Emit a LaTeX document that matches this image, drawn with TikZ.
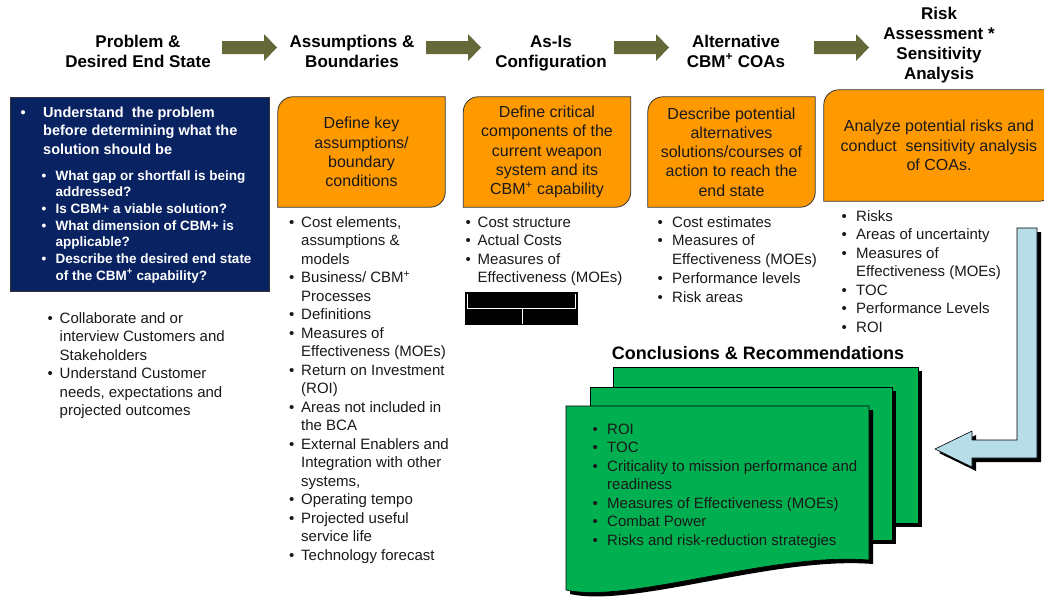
\documentclass[tikz,border=0pt]{standalone}
\usepackage{fontspec}
\setmainfont{Liberation Sans}
\usetikzlibrary{backgrounds,shadows}
\definecolor{navy}{RGB}{8,34,98}
\definecolor{bcaorange}{RGB}{255,153,0}
\definecolor{olivearrow}{RGB}{103,104,57}
\definecolor{sheetgreen}{RGB}{0,176,80}
\definecolor{lightblue}{RGB}{183,222,232}
\newcommand{\bitem}[1][12pt]{\makebox[#1][l]{\textbullet}}
\newcommand{\bhang}[1][12pt]{\hspace*{#1}}
\newcommand{\cbmp}{CBM\textsuperscript{+}}
\begin{document}
\begin{tikzpicture}[x=1pt,y=-1pt,
	hdr/.style={align=center,anchor=base,inner sep=0pt,font=\fontsize{17}{20}\selectfont\bfseries},
	lst/.style={align=left,anchor=base west,inner sep=0pt,text=black!90,font=\fontsize{15}{18.5}\selectfont},
	otext/.style={align=center,inner sep=0pt,text=black!90,font=\fontsize{16}{19.25}\selectfont},
	obox/.style={fill=bcaorange,draw=black!80,line width=0.8pt},
	sheet/.style={fill=sheetgreen,draw=black,line width=0.6pt,drop shadow={opacity=1,fill=black,shadow xshift=4pt,shadow yshift=-4pt}}]
	\useasboundingbox (0,0) rectangle (1044,598);
		\node[hdr] (H1) at (138,67) {Problem \&\\Desired End State};
		\node[hdr] (H2) at (352,67) {Assumptions \&\\Boundaries};
		\node[hdr] (H3) at (551,67) {As-Is\\Configuration};
		\node[hdr] (H4) at (736,67) {Alternative\\\cbmp{} COAs};
		\node[hdr] (H5) at (939,79) {Risk\\Assessment *\\Sensitivity\\Analysis};
		\foreach \x in {222,426,614,814}{
				\fill[olivearrow] (\x,41) -- (\x+42,41) -- (\x+42,34) -- (\x+55,47.5) -- (\x+42,61) -- (\x+42,54) -- (\x,54) -- cycle;}
		\node[fill=navy,draw=black!80,line width=1pt,minimum width=259pt,minimum height=194pt,inner sep=0pt] (B1) at (139.5,194) {};
		\node[lst,text=white,font=\fontsize{14.5}{18.5}\selectfont\bfseries] (T1) at (20.5,154) {\bitem[22.5pt]Understand\ \ the problem\\\bhang[22.5pt]before determining\ what the\\\bhang[22.5pt]solution should be};
		\node[lst,text=white,font=\fontsize{13.5}{16.7}\selectfont\bfseries] (S1) at (41.5,280.2) {\bitem[14pt]What gap or shortfall is being\\\bhang[14pt]addressed?\\\bitem[14pt]Is CBM+ a viable solution?\\\bitem[14pt]What dimension of CBM+ is\\\bhang[14pt]applicable?\\\bitem[14pt]Describe the desired end state\\\bhang[14pt]of the \cbmp{} capability?};
		\node[otext,minimum width=167pt,minimum height=110pt] (B2) at (361.5,152) {Define key\\assumptions/\\boundary\\conditions};
		\node[otext,minimum width=167pt,minimum height=110pt] (B3) at (547,152) {Define critical\\components of the\\current weapon\\system and its\\\cbmp{} capability};
		\node[otext,minimum width=167pt,minimum height=110pt] (B4) at (731.5,152) {Describe potential\\alternatives\\solutions/courses of\\action to reach the\\end state};
		\node[otext,minimum width=230pt,minimum height=111pt] (B5) at (939,145.5) {Analyze potential risks and\\conduct\ \ sensitivity analysis\\of COAs.};
		\begin{scope}[on background layer]
			\foreach \b in {B2,B3,B4,B5}{
					\draw[obox] (\b.west) [rounded corners=15pt] -- (\b.north west) -- (\b.north) [sharp corners] -- (\b.north east) -- (\b.east) [rounded corners=15pt] -- (\b.south east) -- (\b.south) [sharp corners] -- (\b.south west) -- cycle;}
		\end{scope}
		\node[lst] (L1) at (47.5,415.5) {\bitem Collaborate and or\\\bhang interview Customers and\\\bhang Stakeholders\\\bitem Understand Customer\\\bhang needs, expectations and\\\bhang projected outcomes};
		\node[lst] (L2) at (289,560) {\bitem Cost elements,\\\bhang assumptions \&\\\bhang models\\\bitem Business/ \cbmp\\\bhang Processes\\\bitem Definitions\\\bitem Measures of\\\bhang Effectiveness (MOEs)\\\bitem Return on Investment\\\bhang (ROI)\\\bitem Areas not included in\\\bhang the BCA\\\bitem External Enablers and\\\bhang Integration with other\\\bhang systems,\\\bitem Operating tempo\\\bitem Projected useful\\\bhang service life\\\bitem Technology forecast};
		\node[lst] (L3) at (465.5,282.5) {\bitem Cost structure\\\bitem Actual Costs\\\bitem Measures of\\\bhang Effectiveness (MOEs)};
		\node[lst,font=\fontsize{15}{18.75}\selectfont] (L4) at (657.5,302) {\bitem[14.5pt]Cost estimates\\\bitem[14.5pt]Measures of\\\bhang[14.5pt]Effectiveness (MOEs)\\\bitem[14.5pt]Performance levels\\\bitem[14.5pt]Risk areas};
		\node[lst] (L5) at (841.5,332) {\bitem[14.5pt]Risks\\\bitem[14.5pt]Areas of uncertainty\\\bitem[14.5pt]Measures of\\\bhang[14.5pt]Effectiveness (MOEs)\\\bitem[14.5pt]TOC\\\bitem[14.5pt]Performance Levels\\\bitem[14.5pt]ROI};
		\node[fill=black,minimum width=113pt,minimum height=33pt,inner sep=0pt] (K1) at (521.5,308.5) {};
		\draw[white,line width=0.5pt] (467,294) -- (467,308) -- (575,308) -- (575,294);
		\draw[white,line width=0.5pt] (522,308) -- (522,324);
		\node[hdr,font=\fontsize{18}{21}\selectfont\bfseries] (C0) at (758,359.5) {Conclusions \& Recommendations};
		\draw[sheet] (613,367) rectangle (918,523);
		\draw[sheet] (590,387) rectangle (892,540);
		\draw[sheet] (566,406) -- (869,406) -- (869,560) .. controls (770,552) and (630,604) .. (566,590) -- cycle;
		\node[lst] (L6) at (592.5,545) {\bitem[14.5pt]ROI\\\bitem[14.5pt]TOC\\\bitem[14.5pt]Criticality to mission performance and\\\bhang[14.5pt]readiness\\\bitem[14.5pt]Measures of Effectiveness (MOEs)\\\bitem[14.5pt]Combat Power\\\bitem[14.5pt]Risks and risk-reduction strategies};
		\draw[sheet,fill=lightblue] (1017,228) -- (1037,228) -- (1037,458) -- (972,458) -- (972,467) -- (935,449) -- (972,431) -- (972,440) -- (1017,440) -- cycle;
	\end{tikzpicture}
\end{document}
